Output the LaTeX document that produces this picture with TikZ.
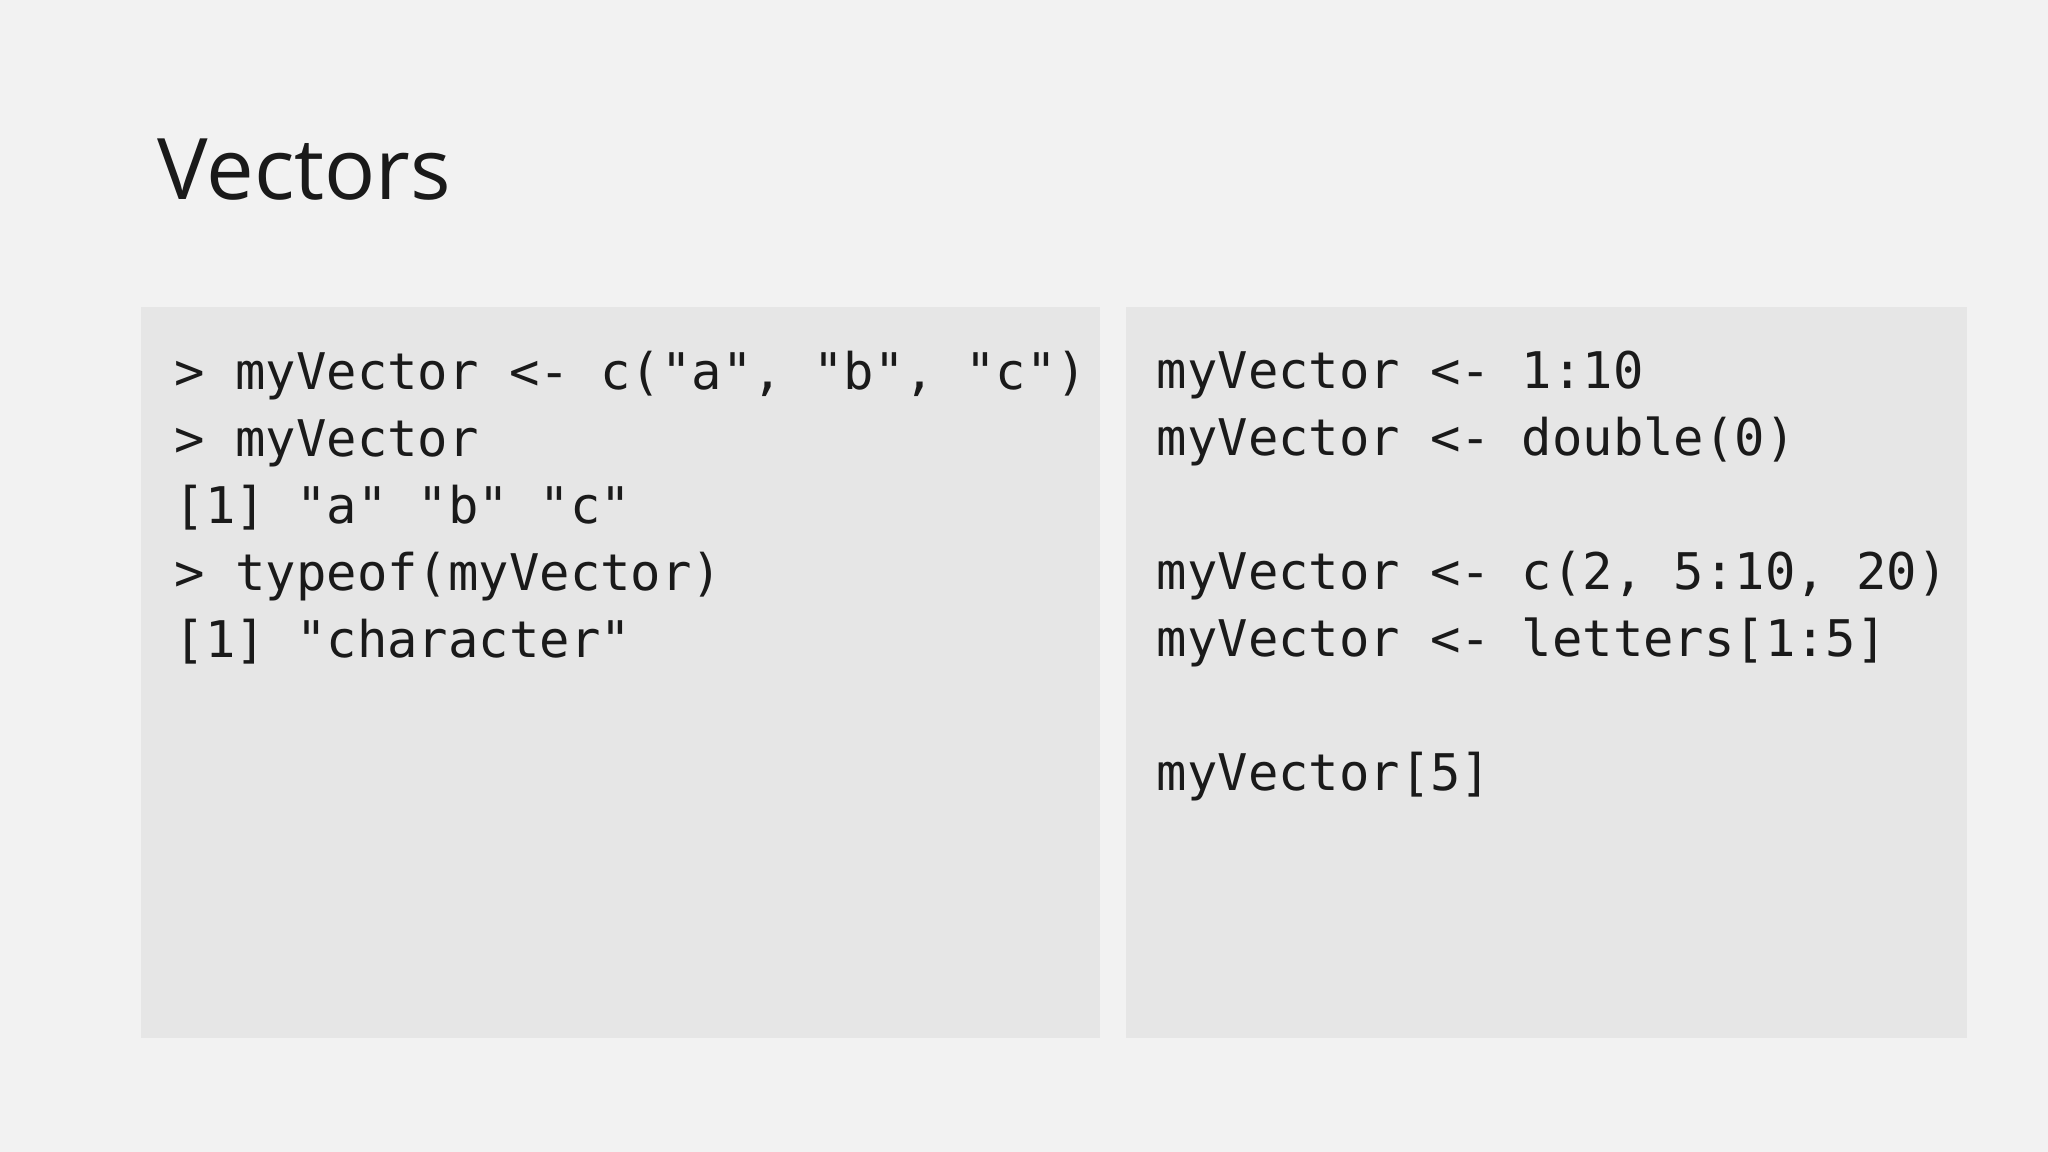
\documentclass[tikz,border=0pt]{standalone}
\usepackage{fontspec}
\setmainfont{Open Sans}
\setmonofont{DejaVu Sans Mono}
\definecolor{bg}{HTML}{F2F2F2}
\definecolor{box}{HTML}{E6E6E6}
\definecolor{ink}{HTML}{1A1A1A}
\begin{document}
\begin{tikzpicture}[x=0.01cm,y=-0.01cm,
  panel/.style={fill=box,draw=none},
  code/.style={anchor=north west,inner sep=0pt,align=left,text=ink,font=\ttfamily\fontsize{11}{14.6}\selectfont}]
\fill[bg] (0,0) rectangle (1568,882);
\node[anchor=base west,inner sep=0pt,text=ink,font=\fontsize{18.5}{22}\selectfont] (title) at (120,153) {Vectors};
\fill[panel] (108,235) rectangle (842,795);
\fill[panel] (862,235) rectangle (1506,795);
\node[code] (left) at (133,268) {> myVector <- c("a", "b", "c")\\> myVector\\{[1]} "a" "b" "c"\\> typeof(myVector)\\{[1]} "character"};
\node[code] (right) at (885,268) {myVector <- 1:10\\myVector <- double(0)\\\strut\\myVector <- c(2, 5:10, 20)\\myVector <- letters[1:5]\\\strut\\myVector[5]};
\end{tikzpicture}
\end{document}
